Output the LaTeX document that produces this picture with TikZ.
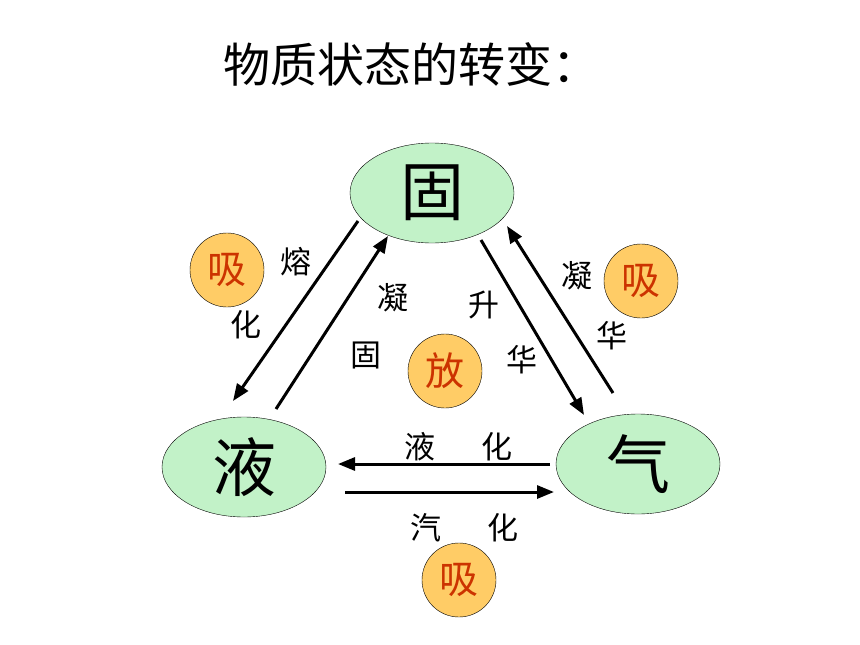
\documentclass[tikz,border=0pt]{standalone}
\usepackage{fontspec}
\newfontfamily\cjk{Noto Sans CJK SC}
\usetikzlibrary{arrows.meta, positioning}
\definecolor{stategreen}{RGB}{194,242,200}
\definecolor{heatorange}{RGB}{255,204,102}
\definecolor{heatred}{RGB}{204,51,0}
\tikzset{
x=1pt, y=-1pt, % pixel-like units, y going down
>={Triangle[length=17pt,width=13pt]}, % makes the arrow heads bold
every node/.style={font=\cjk},
phase/.style={ellipse, draw=black, thin, fill=stategreen, minimum width=164pt, minimum height=100pt, font=\cjk\fontsize{64}{64}\selectfont}, % the three states
heat/.style={circle, draw=black, thin, fill=heatorange, minimum size=74pt, inner sep=0pt, text=heatred, font=\cjk\fontsize{39}{39}\selectfont}, % absorb / release marks
word/.style={font=\cjk\fontsize{31}{31}\selectfont}, % labels of the changes
change/.style={->, line width=3pt}
}
\usetikzlibrary{shapes.geometric}
\begin{document}
\begin{tikzpicture}
      \useasboundingbox (0,0) rectangle (860,645);
      \node[font=\cjk\fontsize{47}{47}\selectfont] (title) at (411,64) {物质状态的转变：};

      \node[phase] (solid) at (432,193) {固};
      \node[phase] (liquid) at (244,467) {液};
      \node[phase] (gas) at (638,464) {气};

      \node[heat] (melt) at (227,270) {吸};
      \node[heat] (desub) at (641,281) {吸};
      \node[heat] (freeze) at (445,371) {放};
      \node[heat] (boil) at (459,580) {吸};

      \node[word] (m1) at (296,262) {熔};
      \node[word] (m2) at (246,325) {化};
      \node[word] (f1) at (393,298) {凝};
      \node[word] (f2) at (366,355) {固};
      \node[word] (s1) at (484,305) {升};
      \node[word] (s2) at (522,360) {华};
      \node[word] (d1) at (577,276) {凝};
      \node[word] (d2) at (612,336) {华};
      \node[word] (c1) at (420,447) {液};
      \node[word] (c2) at (497,447) {化};
      \node[word] (v1) at (426,528) {汽};
      \node[word] (v2) at (503,528) {化};

      \coordinate (sl) at (358,221);
      \coordinate (ls) at (233,401);
      \coordinate (ls2) at (276,409);
      \coordinate (sl2) at (388,236);
      \coordinate (sg) at (481,240);
      \coordinate (gs) at (584,415);
      \coordinate (gs2) at (613,393);
      \coordinate (sg2) at (507,226);
      \coordinate (gl) at (550,464);
      \coordinate (lg) at (338,464);
      \coordinate (lg2) at (345,492);
      \coordinate (gl2) at (554,492);

      \draw[change] (sl) -- (ls);
      \draw[change] (ls2) -- (sl2);
      \draw[change] (sg) -- (gs);
      \draw[change] (gs2) -- (sg2);
      \draw[change] (gl) -- (lg);
      \draw[change] (lg2) -- (gl2);
    \end{tikzpicture}
\end{document}
